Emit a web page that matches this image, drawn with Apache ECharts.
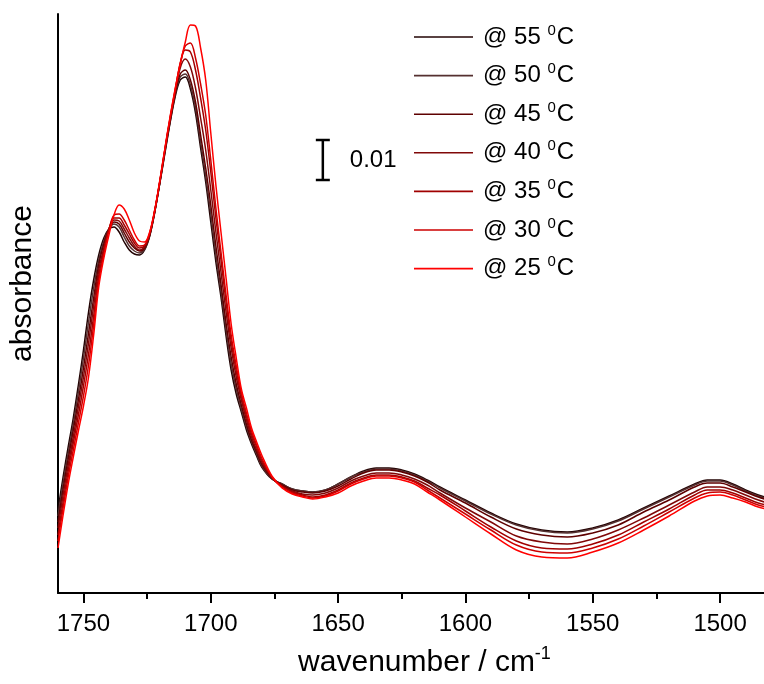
<!DOCTYPE html>
<html>
<head>
<meta charset="utf-8">
<script src="https://cdn.jsdelivr.net/npm/echarts@6/dist/echarts.min.js"></script>
<style>html,body{margin:0;padding:0;background:#fff}#c{width:764px;height:684px}</style>
</head>
<body>
<div id="c"></div>
<script>
// wavenumber grid (cm^-1)
const wavenumber = [1760,1758,1756,1754,1752,1750,1748,1746,1744,1742,
  1740,1738,1736,1734,1732,1730,1728,1726,1724,1722,1720,1718,1716,
  1714,1712,1710,1708,1706,1704,1702,1700,1698,1696,1694,1692,1690,
  1688,1686,1684,1682,1680,1676,1672,
  1668,1664,1660,1655,1650,1645,1640,1635,1630,1625,1620,1615,1610,1600,1590,1580,1570,1560,1550,1540,1530,1520,1510,1505,1500,1495,1490,1485,1480];

// absorbance x 1000 (mAbs)
const abs55 = [20.75,29,36.5,43.75,52,60.75,70.25,78.25,84.5,88.75,
  91,91.5,90.25,87.75,85.75,84.75,84.5,85.75,89.25,95.25,102.5,110,117.5,
  124,128.25,129,126,120,111.25,102.75,92.75,82.75,74,64.25,55.75,49.75,
  45.25,40.75,37.25,34.25,31.5,28.5,27.25,
  26,25.5,25.25,25.75,27.25,29,30.5,31.25,31.25,30.75,29.75,28.25,26.5,23.25,20,17.25,15.75,15.25,16.25,18.25,21.25,24.25,27.25,28.25,28.25,27.25,25.75,24.5,23.5];
const abs50 = [19.25,27.5,35,42.25,50.25,58.75,67.75,76.25,83.25,88,
  91,92.25,91.5,89,86.75,85.5,85,86,89.25,95.25,102.5,110.25,117.75,
  124.5,129,129.75,127,121.25,112.75,104.25,94.75,84.5,75.5,65.75,57.25,51,
  46,41.5,37.75,34.75,31.75,28.5,27.25,
  26,25.5,25.25,25.75,27.25,29,30.25,31,31,30.5,29.5,28,26.25,23,19.75,17,15.5,15,16,18,21,24,27,28,28,27,25.5,24.25,23.25];
const abs45 = [17.75,26,33.5,40.75,48.25,56.25,65,73.75,82,87.25,
  91,92.75,92.25,90,87.75,86.25,85.5,86.25,89.5,95.5,102.75,110.5,118,
  124.75,129.75,130.75,128.25,122.75,114.5,106.25,97,86.75,77.25,67.5,59,52.25,
  47,42.25,38.25,35.25,32.25,28.75,27,
  25.75,25.25,25,25.5,26.75,28.5,30,30.75,30.75,30.25,29.25,27.75,25.75,22.5,19,16,14.5,14,15,17,20.25,23.25,26.5,27.5,27.5,26.5,25.25,24,23];
const abs40 = [16.25,24.5,32,39,46.5,54,62.5,71.75,80.75,86.25,
  91,93.25,93,91,88.75,86.75,85.75,86.5,89.5,95.5,102.75,110.75,118.25,
  125,131.25,133.5,131.5,126.25,118.75,110.75,100.75,90.25,80.25,70.25,61.25,54,
  48.25,43.25,39,35.75,32.75,28.75,26.75,
  25.5,24.75,24.5,25,26.25,28,29.25,30,30,29.5,28.5,27,25,21.25,17.75,14.25,12.75,12.25,13.5,15.75,18.75,22,25.25,26.5,26.5,25.75,24.5,23.25,22.25];
const abs35 = [14.5,22.75,30.5,37.5,44.5,51.75,59.75,69.25,79.25,85.5,
  90.75,93.75,93.75,92,89.75,87.5,86.25,86.75,89.75,95.5,103,111,118.5,
  125.5,132.25,135.75,135.25,130.75,123.75,115.75,105.25,93.75,83.25,72.75,63,55.5,
  49.25,44.25,39.75,36.5,33.25,29,26.75,
  25.25,24.5,24,24.5,25.75,27.5,28.75,29.5,29.5,29,28,26.25,24.5,20.5,16.5,13,11.25,11,12.25,14.5,17.75,21,24.5,25.75,25.75,25,23.75,22.5,21.75];
const abs30 = [13,21.25,29,35.75,42.5,49.25,57,67,78,84.75,
  90.75,94.5,94.75,93.25,90.75,88.25,86.75,87,90,95.75,103,111,118.75,
  125.75,132.5,136.75,137.5,133.75,127.25,119.5,108.25,96.25,85.25,74.5,64.5,56.75,
  50,45,40.5,37,33.75,29,26.5,
  25,24.25,23.75,24.25,25.5,27.25,28.5,29.25,29.25,28.75,27.75,25.75,23.75,19.75,15.75,12,10.25,10,11.25,13.5,16.75,20.25,23.75,25,25.25,24.5,23.25,22,21.25];
const abs25 = [11.25,19.5,27.25,34,40.5,46.75,54,64.5,76.5,83.75,
  89.5,94.5,97,96,93.25,90,88,87.75,90.25,95.75,103.25,111.25,119,
  126,132.25,137.75,142,141.75,136.25,128.25,115,102,90.25,78.75,67.25,58.75,
  51,46.25,41.25,37.75,34.5,29.25,26.25,
  24.75,24,23.5,24,25,26.75,28,28.75,28.75,28.25,27.25,25.25,23.25,19,14.75,10.75,9,8.75,10.25,12.5,15.75,19.25,23,24.25,24.5,23.75,22.75,21.5,20.75];

const temperatures = ['55','50','45','40','35','30','25'];
const seriesValues = [abs55, abs50, abs45, abs40, abs35, abs30, abs25];
const colors = ['#220303','#553030','#5e0000','#800808','#a00000','#cc0000','#ff0000'];

const xMajorTicks = [1750,1700,1650,1600,1550,1500];
const xMinorTicks = [1725,1675,1625,1575,1525];

// scale bar: 0.01 absorbance = 10 mAbs
const scaleBarWn = 1656;
const scaleBarBase = 103.25;
const scaleBarHeight = 10;
const scaleBarLabel = '0.01';

const FONT = '"Liberation Sans", Arial, Helvetica, sans-serif';

const chart = echarts.init(document.getElementById('c'), null, {renderer: 'canvas'});

const series = temperatures.map((t, i) => ({
  name: t,
  type: 'line',
  data: wavenumber.map((w, k) => [w, seriesValues[i][k]]),
  showSymbol: false,
  symbol: 'none',
  smooth: 0.35,
  lineStyle: {width: 1.5, color: colors[i]},
  itemStyle: {color: colors[i]},
  z: 2 + i,
  silent: true,
  animation: false
}));

series.push({
  type: 'custom',
  name: 'scalebar',
  data: [[scaleBarWn, scaleBarBase, scaleBarBase + scaleBarHeight]],
  renderItem: function (params, api) {
    const p0 = api.coord([api.value(0), api.value(1)]);
    const p1 = api.coord([api.value(0), api.value(2)]);
    const hw = 7;
    const st = {stroke: '#000', lineWidth: 2.5};
    return {
      type: 'group',
      children: [
        {type: 'line', shape: {x1: p0[0], y1: p0[1], x2: p1[0], y2: p1[1]}, style: st},
        {type: 'line', shape: {x1: p0[0] - hw, y1: p0[1], x2: p0[0] + hw, y2: p0[1]}, style: st},
        {type: 'line', shape: {x1: p1[0] - hw, y1: p1[1], x2: p1[0] + hw, y2: p1[1]}, style: st},
        {type: 'text', style: {x: p0[0] + 27, y: (p0[1] + p1[1]) / 2, text: scaleBarLabel,
          font: '24px ' + FONT, fill: '#000', textAlign: 'left', textVerticalAlign: 'middle'}}
      ]
    };
  },
  silent: true,
  animation: false,
  z: 10
});

chart.setOption({
  animation: false,
  backgroundColor: '#fff',
  grid: {left: 58, top: 14, width: 713, height: 579, containLabel: false, outerBoundsMode: 'none'},
  legend: {
    data: temperatures,
    orient: 'vertical',
    left: 414,
    top: 23,
    padding: 0,
    itemWidth: 59,
    itemHeight: 1.6,
    itemGap: 12.6,
    icon: 'path://M0,0 L60,0 L60,1.6 L0,1.6 Z',
    selectedMode: false,
    formatter: function (n) { return '{m|@ ' + n + ' }{sup|0}{m|C}'; },
    textStyle: {
      fontFamily: FONT, fontSize: 24, color: '#000', padding: [0, 0, 0, 5],
      rich: {
        m: {fontFamily: FONT, fontSize: 24, lineHeight: 28, color: '#000'},
        sup: {fontFamily: FONT, fontSize: 15, lineHeight: 15, color: '#000', verticalAlign: 'top', padding: [0, 1, 0, 0]}
      }
    }
  },
  xAxis: [{
    type: 'value',
    inverse: true,
    min: 1480,
    max: 1760,
    position: 'bottom',
    axisLine: {show: true, onZero: false, lineStyle: {color: '#000', width: 2}},
    axisTick: {show: true, inside: false, length: 10, lineStyle: {color: '#000', width: 2}, customValues: xMajorTicks},
    axisLabel: {show: true, margin: 19, fontFamily: FONT, fontSize: 24, color: '#000', customValues: xMajorTicks,
      formatter: function (v) { return String(v); }},
    splitLine: {show: false},
    name: '{m|wavenumber / cm}{sup|-1}',
    nameLocation: 'middle',
    nameGap: 52,
    nameTextStyle: {
      fontFamily: FONT, fontSize: 30, color: '#000', padding: [0, 0, 0, 20],
      rich: {
        m: {fontFamily: FONT, fontSize: 30, lineHeight: 36, color: '#000'},
        sup: {fontFamily: FONT, fontSize: 18, lineHeight: 18, color: '#000', verticalAlign: 'top'}
      }
    }
  }, {
    type: 'value',
    inverse: true,
    min: 1480,
    max: 1760,
    position: 'bottom',
    offset: 0,
    axisLine: {show: false},
    axisTick: {show: true, inside: false, length: 6, lineStyle: {color: '#000', width: 2}, customValues: xMinorTicks},
    axisLabel: {show: false},
    splitLine: {show: false}
  }],
  yAxis: {
    type: 'value',
    min: 0,
    max: 144.75,
    axisLine: {show: true, onZero: false, lineStyle: {color: '#000', width: 2}},
    axisTick: {show: false},
    axisLabel: {show: false},
    splitLine: {show: false},
    name: 'absorbance',
    nameLocation: 'middle',
    nameGap: 20,
    nameTextStyle: {fontFamily: FONT, fontSize: 30, color: '#000', padding: [0, 0, 0, 40]}
  },
  series: series
});
</script>
</body>
</html>
